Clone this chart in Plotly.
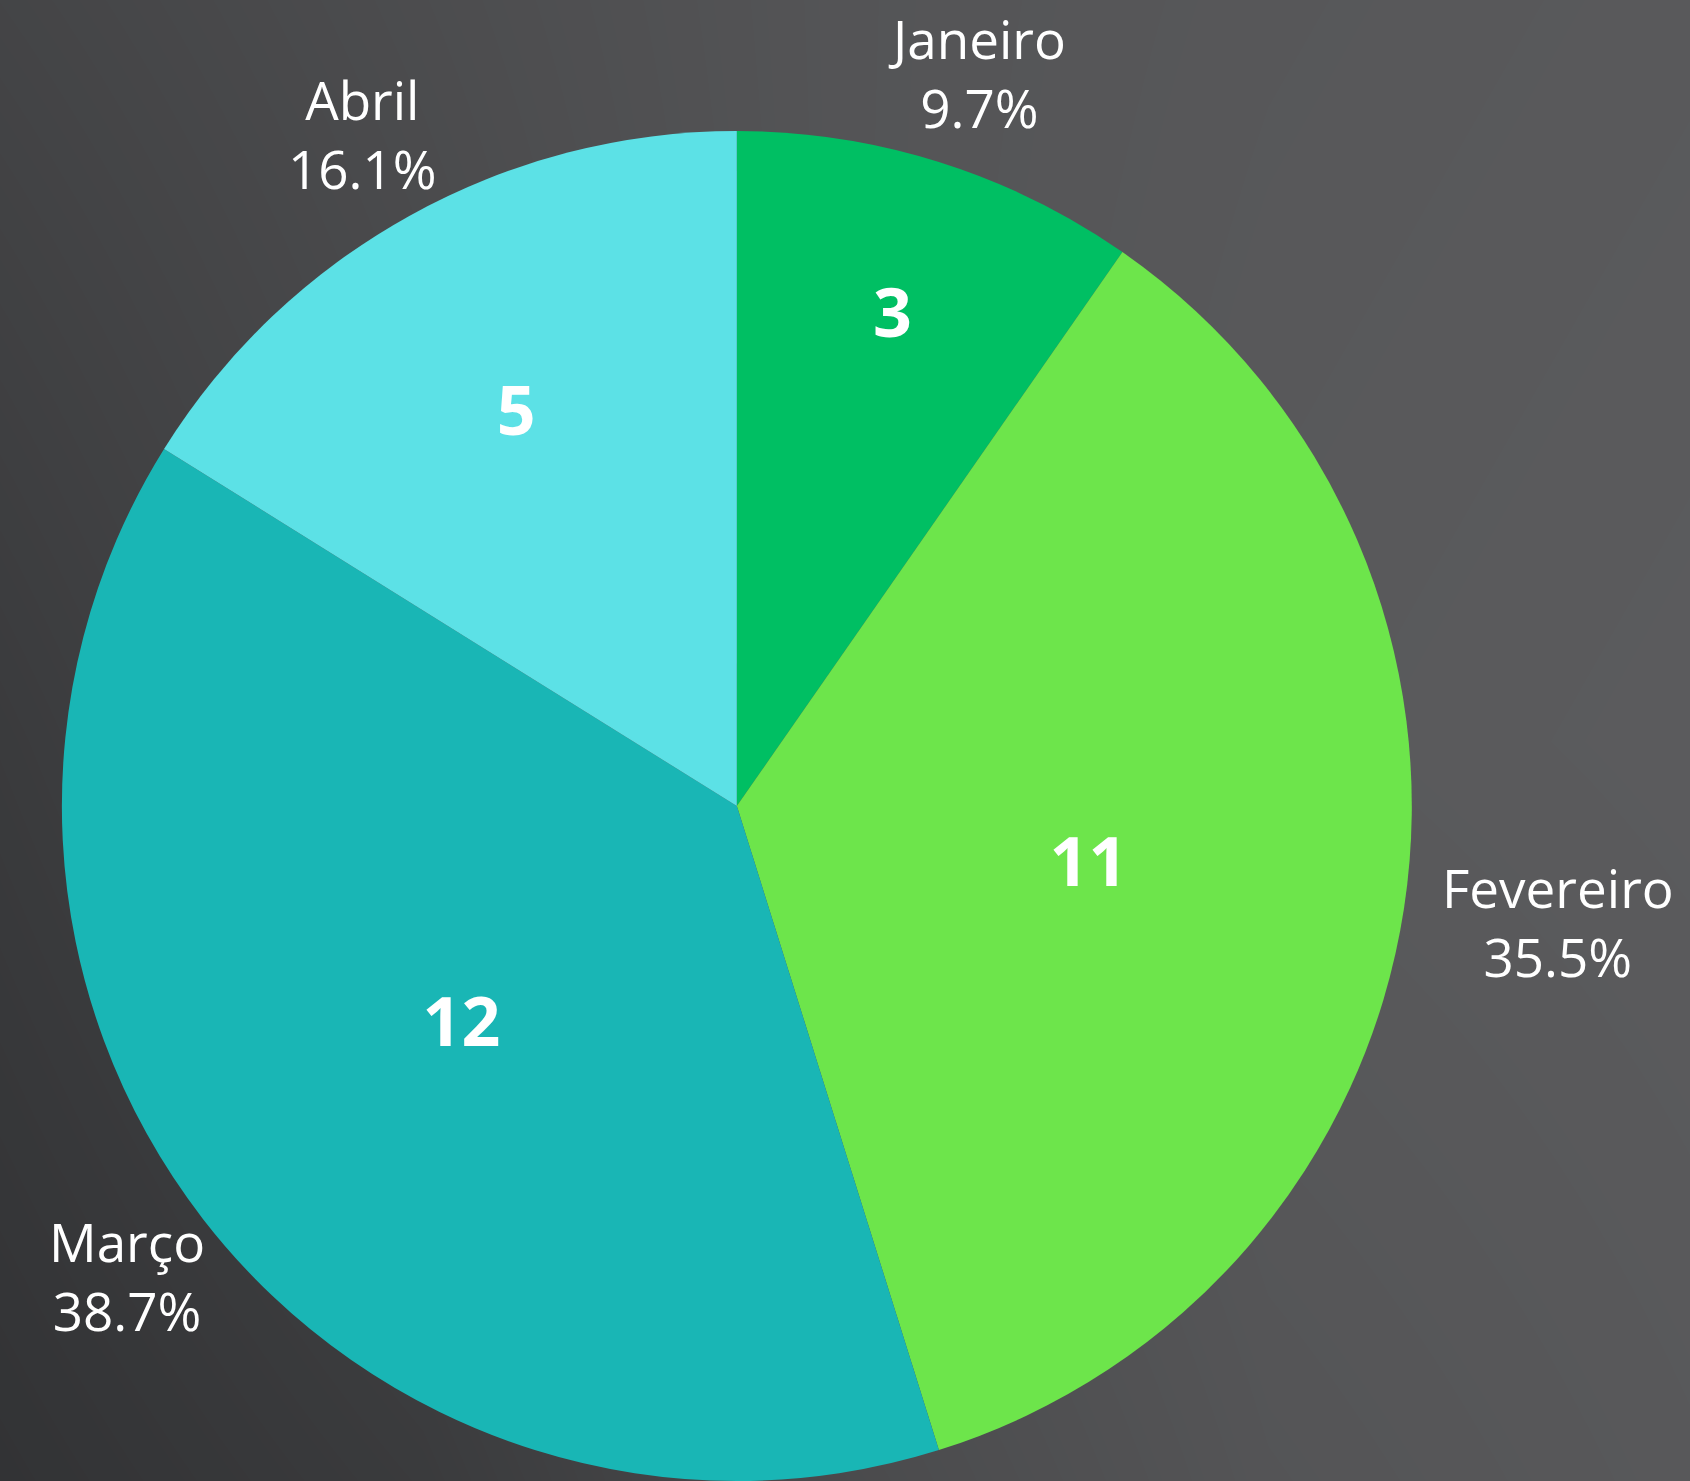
import math
import plotly.graph_objects as go

# Data
months = ["Janeiro", "Fevereiro", "Março", "Abril"]
counts = [3, 11, 12, 5]
slice_colors = ["#00BF63", "#6DE54B", "#19B6B5", "#5CE1E6"]

# background gradient (gray levels), decorative
bg_x = [-0.2, 0.0, 0.25, 0.5, 0.75, 1.0, 1.2]
bg_y = [-0.2, 0.0, 0.5, 1.0, 1.2]
bg_z = [
    [50, 50, 58, 74, 84, 88, 88],
    [50, 50, 58, 74, 84, 88, 88],
    [56, 58, 70, 84, 89, 91, 91],
    [68, 68, 76, 84, 87, 89, 89],
    [68, 68, 76, 84, 87, 89, 89],
]

W, H = 1690, 1481
pie_domain = dict(x=[0, 0.872], y=[0, 0.9115])
LABEL_SIZE = 53

fig = go.Figure()

fig.add_trace(go.Heatmap(
    x=bg_x, y=bg_y, z=bg_z, zsmooth="best",
    colorscale=[[0, "rgb(40,41,43)"], [1, "rgb(100,100,102)"]],
    zmin=40, zmax=100, showscale=False, hoverinfo="skip",
))

fig.add_trace(go.Pie(
    labels=months, values=counts, sort=False, direction="clockwise", rotation=0,
    marker=dict(colors=slice_colors, line=dict(width=0)),
    textposition="inside", insidetextorientation="horizontal",
    texttemplate="<b>%{value}</b>",
    textfont=dict(family="Open Sans", size=68, color="white"),
    domain=pie_domain, showlegend=False, hoverinfo="label+value+percent",
))

# Outside labels placed just outside each slice's mid-angle, derived from the data
total = sum(counts)
cx = (pie_domain["x"][0] + pie_domain["x"][1]) / 2
cy = (pie_domain["y"][0] + pie_domain["y"][1]) / 2
r_px = min((pie_domain["x"][1] - pie_domain["x"][0]) * W,
           (pie_domain["y"][1] - pie_domain["y"][0]) * H) / 2
gap = 22
cum = 0
for m, c in zip(months, counts):
    mid = (cum + c / 2) / total * 2 * math.pi
    cum += c
    s, co = math.sin(mid), math.cos(mid)
    pct = f"{c / total * 100:.1f}%"
    hw = max(len(m), len(pct)) * 0.56 * LABEL_SIZE / 2
    hh = 1.35 * LABEL_SIZE
    dx = (r_px + gap) * s + s * hw
    dy = (r_px + gap) * co + co * hh
    fig.add_annotation(
        x=cx + dx / W, y=cy + dy / H,
        xref="paper", yref="paper", xanchor="center", yanchor="middle",
        text=f"{m}<br>{pct}",
        showarrow=False, align="center",
        font=dict(family="Open Sans", size=LABEL_SIZE, color="white"),
    )

fig.update_layout(
    width=W, height=H,
    margin=dict(l=0, r=0, t=0, b=0),
    paper_bgcolor="#4a4a4c", plot_bgcolor="#4a4a4c",
    xaxis=dict(range=[0, 1], visible=False, domain=[0, 1], fixedrange=True),
    yaxis=dict(range=[0, 1], visible=False, domain=[0, 1], fixedrange=True),
    showlegend=False,
)

fig.write_html("out.html", config={"displayModeBar": False},
               post_script="document.body.style.margin='0';")
